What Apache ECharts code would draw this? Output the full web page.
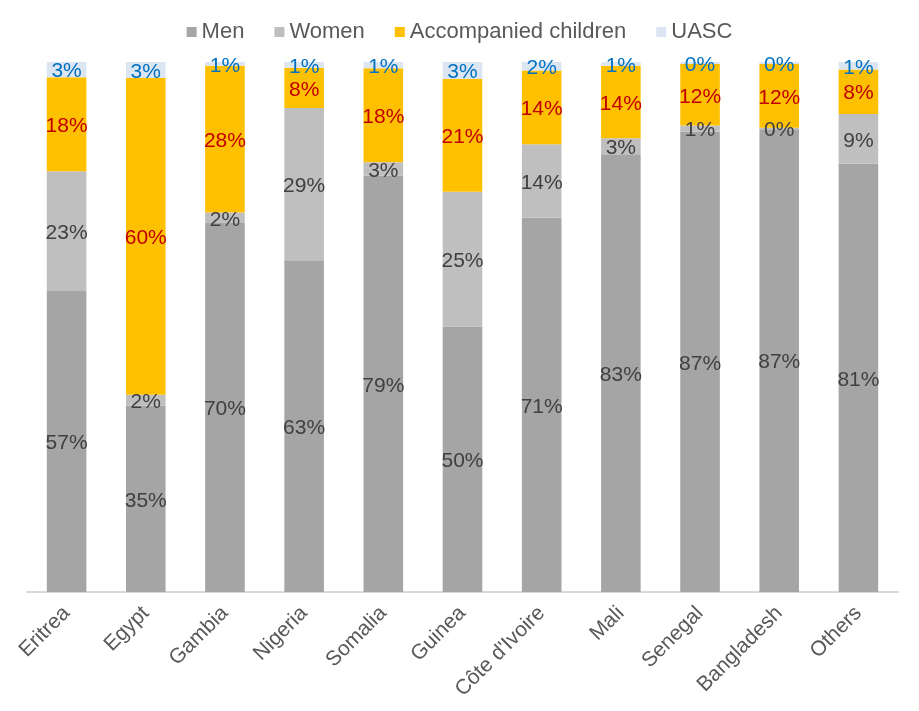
<!DOCTYPE html>
<html>
<head>
<meta charset="utf-8">
<script src="https://cdn.jsdelivr.net/npm/echarts@6/dist/echarts.min.js"></script>
<style>
  html, body { margin: 0; padding: 0; background: #fff; }
  #main { width: 919px; height: 711px; }
</style>
</head>
<body>
<div id="main"></div>
<script>
// countries and shares (%)
var countries = ['Eritrea', 'Egypt', 'Gambia', 'Nigeria', 'Somalia', 'Guinea',
  'Côte d\'Ivoire', 'Mali', 'Senegal', 'Bangladesh', 'Others'];
var men      = [56.8, 35.2, 69.6, 62.6, 78.6, 50.1, 70.6, 82.6, 86.9, 87.3, 80.8];
var women    = [22.6,  2.0,  2.0, 28.7,  2.5, 25.4, 13.9,  3.0,  1.1,  0.3,  9.4];
var children = [17.7, 59.8, 27.7,  7.6, 17.7, 21.3, 13.9, 13.7, 11.6, 12.0,  8.4];
var uasc     = [ 2.9,  3.0,  0.7,  1.1,  1.2,  3.2,  1.6,  0.7,  0.4,  0.4,  1.4];

var names = ['Men', 'Women', 'Accompanied children', 'UASC'];
var colors = ['#a5a5a5', '#bfbfbf', '#ffc000', '#dce6f2'];
var labelColors = ['#404040', '#404040', '#c00000', '#0070c0'];

(function () {
  var myChart = echarts.init(document.getElementById('main'));

  var series = [men, women, children, uasc].map(function (d, i) {
    return {
      name: names[i],
      type: 'bar',
      stack: 'total',
      barWidth: '50%',
      data: d,
      itemStyle: { color: colors[i] },
      label: {
        show: true,
        position: 'inside',
        offset: [0, 2],
        fontFamily: 'Liberation Sans, Arial',
        fontSize: 21,
        color: labelColors[i],
        formatter: function (p) { return Math.round(p.value) + '%'; }
      }
    };
  });

  var option = {
    animation: false,
    color: colors,
    legend: {
      top: 16,
      left: 'center',
      itemWidth: 10,
      itemHeight: 10,
      itemGap: 30,
      icon: 'rect',
      textStyle: { fontFamily: 'Liberation Sans, Arial', fontSize: 22, color: '#595959' },
      data: names
    },
    grid: { left: 27, right: 21, top: 62, bottom: 119 },
    xAxis: {
      type: 'category',
      data: countries,
      axisLine: { lineStyle: { color: '#d9d9d9', width: 2 } },
      axisTick: { show: false },
      axisLabel: {
        rotate: 45,
        interval: 0,
        margin: 18,
        fontFamily: 'Liberation Sans, Arial',
        fontSize: 21,
        color: '#595959'
      }
    },
    yAxis: {
      type: 'value',
      min: 0,
      max: 100,
      show: false,
      splitLine: { show: false }
    },
    series: series
  };

  myChart.setOption(option);
  window.addEventListener('resize', function () { myChart.resize(); });
})();
</script>
</body>
</html>
